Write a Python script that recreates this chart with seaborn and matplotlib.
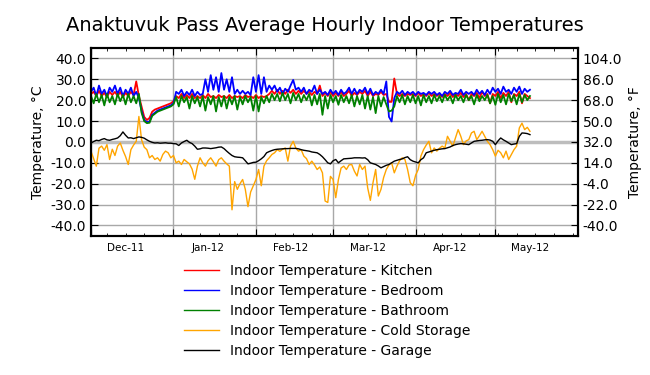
import numpy as np
import pandas as pd
import matplotlib
matplotlib.use('Agg')
import matplotlib.pyplot as plt
import matplotlib.dates as mdates
import seaborn as sns

# daily readings, starting 1 Dec 2011 (deg C)
START = '2011-12-01'

kitchen = [
    23, 24, 22, 24.5, 22, 23.5, 21.5, 24, 22.5, 24,
    22, 24, 21.5, 23.5, 22, 24, 22.5, 29, 22, 17,
    12, 10.5, 11.5, 14.5, 15.5, 16, 16.5, 17, 17.5, 18,
    18.5, 19.5, 22, 21, 23, 21, 22.5, 21, 23, 21,
    22, 21, 22.5, 21, 23, 21.5, 22, 21, 22.5, 21.5,
    22, 21, 22.5, 21, 22, 21.5, 22, 21, 22.5, 21.5,
    22, 21, 22.5, 21, 22, 21.5, 22, 23, 24.5, 23,
    25, 23, 24.5, 23, 25, 23.5, 25, 23, 24.5, 23,
    24.5, 23, 24, 22.5, 24, 23, 27, 22, 23.5, 22,
    24, 22, 23.5, 22, 24, 22, 23, 24.5, 22, 23.5,
    22.5, 24, 23, 24.5, 22, 24, 22, 23, 22.5, 24,
    22.5, 23, 19.2, 19.2, 30.4, 23, 22, 23, 22, 23,
    22.5, 23, 22, 23.5, 22, 23, 22, 23.5, 22, 23,
    22, 23, 21.5, 23, 22, 23.5, 21.5, 23, 22, 23.5,
    21.5, 23, 20, 23, 22, 23.5, 21, 24, 22, 23,
    18.5, 23, 22, 24, 21, 23.5, 22, 24, 19, 23,
    22, 24, 18.5, 23, 22, 21,
]

bedroom = [
    24, 26, 22, 27, 23, 25, 22, 26, 24, 27,
    23, 26, 22, 25, 23, 26, 22, 24, 21, 15,
    10.5, 9.5, 9.8, 13, 14, 15, 15.5, 16, 16.5, 17,
    17.5, 18.5, 24, 23, 25, 22, 24, 22.5, 25, 22,
    24, 22.5, 23, 30, 24, 32, 25, 31, 24, 33,
    25, 30, 24, 31, 23, 25, 23, 24.5, 23, 24,
    22.5, 31, 24, 32, 23, 31, 24, 27, 25, 27,
    24, 26, 23, 25.5, 24, 27, 29.7, 25, 26, 24,
    26, 23, 25, 24, 27, 23, 25, 23, 24, 22.5,
    25, 23, 24.5, 22.5, 25, 23, 24, 26, 23, 25.5,
    23, 25, 24, 26, 23, 25.5, 22.5, 24, 23, 25,
    23, 29, 12, 9.8, 21, 24, 23, 24.5, 22.5, 24,
    23, 24, 22.5, 24, 23, 23.5, 22.5, 24, 23, 24,
    22.5, 23.5, 22, 24, 23, 24.5, 22.5, 23.5, 23, 25,
    22.5, 24, 23, 24, 22.5, 25, 23, 24.5, 22.5, 25,
    23, 26, 24, 25.5, 23, 26.5, 24, 25, 23, 26,
    24, 26.5, 23, 25.5, 24, 25,
]

bathroom = [
    22, 18.5, 23, 19, 22.5, 17.5, 23, 19, 22, 18,
    23, 19.5, 22.5, 18, 23, 19, 22, 18.5, 23, 14,
    10, 9, 9.2, 12.5, 13.5, 14.5, 15, 15.5, 16, 16.5,
    17, 18, 21.5, 17, 22, 19, 21.5, 16, 22, 18.5,
    21.5, 17, 22, 15, 21.5, 18, 22, 14.6, 21.5, 17,
    22, 16, 21.5, 18, 22, 15.5, 21.5, 18, 22, 19,
    21.5, 15, 22, 14.6, 21.5, 18.5, 22, 19, 23, 20,
    23, 19.5, 23.5, 20, 23, 18.5, 23.5, 20, 23, 19,
    22.5, 20, 23, 17.5, 22.5, 18, 23, 13, 22, 16,
    22.5, 19, 22, 17.8, 22.5, 19, 22, 18.5, 22.5, 17,
    22, 18, 22.5, 16, 22, 15.5, 21.5, 13.8, 22, 17,
    21.5, 18, 14.6, 15, 17, 22, 19, 22.5, 18, 22,
    19, 22.5, 18.5, 22, 17.5, 22.5, 19, 22, 18.5, 22.5,
    19.5, 22, 19, 22.5, 20, 22, 18.5, 22.5, 20, 22,
    19, 22.5, 20, 22, 18, 22.5, 19.5, 22, 20, 22.5,
    18.5, 22, 17.8, 23, 19, 22.5, 18, 23, 19.5, 22.5,
    18, 23, 19, 22.5, 20, 22,
]

cold_storage = [
    -4.5, -8, -11.6, -3, -2, -4, -1.3, -8.4, -3.5, -6.5,
    -2, -0.5, -4, -7, -10.8, -3.7, -1.5, 0.3, 12.2, 1.1,
    -2.5, -3.7, -7.6, -6.5, -8.4, -7.6, -9.2, -6, -4.4, -5.2,
    -7.6, -6.5, -10, -9.2, -10.8, -8.4, -9.5, -10.5, -13, -17.9,
    -11.6, -7.6, -10, -11.6, -9, -7.6, -9.5, -11.6, -8.5, -7.6,
    -9.2, -10.5, -11.6, -32.5, -19, -22.7, -20, -18, -22.7, -31,
    -24, -21, -18, -13.2, -21, -11.6, -9, -7.6, -6, -5.2,
    -3.7, -4.5, -3.5, -2.9, -9.2, -2, 0.3, -3, -4.4, -3.7,
    -6.8, -8, -10.8, -9.2, -11, -13.2, -12, -14.8, -28.3, -29,
    -16.5, -18, -26.7, -18, -12.5, -11.6, -13.2, -11, -10.8, -14,
    -16.3, -10.8, -13.2, -11.6, -22, -28, -19.5, -13.2, -25.9, -22.7,
    -17, -13.2, -11, -10, -14.8, -11.6, -9, -7.6, -8.4, -13.2,
    -19.5, -21, -16, -13.2, -6.8, -3.7, -1.5, 0.3, -5.2, -2.9,
    -4.4, -3, -2, -2.9, 2.7, 0.3, -2, 1.9, 5.9, 2.7,
    -1.3, 0.5, 1.1, 4.3, 5.1, 1.1, 3, 5.1, 2.7, 0.3,
    -1.3, -3.7, -6.8, -4, -5.2, -7.6, -4.4, -8.4, -6, -3.7,
    -2, 6.7, 9, 5.9, 7, 5.1,
]

garage = [
    -0.5, 0.2, 0.8, 0.6, 1.2, 1.6, 1.0, 0.8, 1.2, 1.5,
    1.9, 3.0, 4.8, 3.2, 1.9, 2.0, 1.6, 2.0, 2.4, 2.2,
    1.8, 1.0, 0.3, -0.2, -0.5, -0.4, -0.6, -0.5, -0.4, -0.6,
    -0.6, -0.8, -0.9, -1.7, -0.5, 0.2, 0.8, -0.2, -0.8, -2.0,
    -3.5, -3.3, -2.9, -2.9, -3.0, -3.2, -3.0, -2.8, -2.5, -2.4,
    -3.2, -4.4, -5.5, -6.5, -7.1, -7.3, -7.4, -7.6, -9.0, -10.5,
    -10.2, -9.8, -9.7, -9.0, -8.1, -7.0, -5.2, -4.6, -4.1, -3.7,
    -3.5, -3.4, -3.3, -3.2, -3.2, -3.1, -3.1, -3.1, -3.3, -3.7,
    -4.0, -4.2, -4.4, -4.8, -5.0, -5.2, -6.0, -7.1, -8.5, -10.0,
    -10.5, -9.0, -8.4, -10.0, -9.0, -8.1, -8.0, -7.9, -7.8, -7.6,
    -7.6, -7.6, -7.7, -7.6, -8.5, -10.0, -10.4, -10.8, -11.5, -12.4,
    -11.8, -11.2, -10.8, -10.0, -9.2, -8.8, -8.4, -8.1, -7.5, -7.1,
    -8.5, -9.2, -9.6, -10.0, -8.5, -7.6, -5.2, -4.8, -4.4, -4.0,
    -3.7, -3.5, -3.3, -3.2, -2.8, -2.4, -1.7, -1.3, -1.0, -0.8,
    -0.9, -1.1, -1.3, -0.5, 0.3, 0.5, 0.7, 0.8, 1.0, 1.1,
    0.9, 0.3, -1.3, 0.5, 1.9, 1.0, 0.3, -0.5, -1.3, -1.0,
    -0.8, 2.7, 4.3, 4.2, 4.0, 3.5,
]

labels = ['Indoor Temperature - Kitchen', 'Indoor Temperature - Bedroom',
          'Indoor Temperature - Bathroom', 'Indoor Temperature - Cold Storage',
          'Indoor Temperature - Garage']
colors = ['red', 'blue', 'green', 'orange', 'black']
widths = [1.3, 1.3, 1.3, 1.0, 1.0]
yticks_c = [-40, -30, -20, -10, 0, 10, 20, 30, 40]


def c2f(c):
    return np.asarray(c) * 9.0 / 5.0 + 32.0


def main():
    series = [kitchen, bedroom, bathroom, cold_storage, garage]
    dates = pd.date_range(START, periods=len(garage), freq='D')

    plt.rcParams['xtick.direction'] = 'in'
    plt.rcParams['ytick.direction'] = 'in'
    plt.rcParams['font.family'] = ['DejaVu Sans']

    fig = plt.figure(figsize=(6.5, 3.75), dpi=100)
    ax = fig.add_axes([0.14, 0.371, 0.749, 0.501])
    for lab, vals, col, lw in zip(labels, series, colors, widths):
        assert len(vals) == len(dates), (lab, len(vals))
        d = pd.DataFrame({'date': dates, 'temp': vals})
        sns.lineplot(data=d, x='date', y='temp', color=col, linewidth=lw,
                     ax=ax, zorder=3)
    handles = ax.get_lines()[:5]
    ax.axhline(0, color='#bdbdbd', lw=2.5, zorder=2)

    ax.set_xlim(pd.Timestamp('2011-12-01'), pd.Timestamp('2012-06-01'))
    ax.set_ylim(-45, 45)
    ax.set_yticks(yticks_c)
    ax.set_yticklabels(['%.1f' % v for v in yticks_c], fontsize=10)
    ax.set_ylabel('Temperature, °C', fontsize=10)
    ax.set_xlabel('')

    ax.xaxis.set_major_locator(mdates.MonthLocator())
    ax.xaxis.set_major_formatter(plt.NullFormatter())
    ax.xaxis.set_minor_locator(mdates.WeekdayLocator(byweekday=mdates.WE))
    ax.tick_params(axis='x', which='major', length=5, top=True)
    ax.tick_params(axis='x', which='minor', length=2.5, top=True)
    ax.tick_params(axis='y', length=5)
    ax.grid(True, which='major', color='#a8a8a8', lw=1)
    ax.set_axisbelow(True)
    for s in ax.spines.values():
        s.set_linewidth(1.5)

    sec = ax.secondary_xaxis('bottom')
    sec.xaxis.set_major_locator(mdates.MonthLocator(bymonthday=14))
    sec.xaxis.set_major_formatter(mdates.DateFormatter('%b-%y'))
    sec.tick_params(length=0, labelsize=7.5, pad=5)
    sec.spines['bottom'].set_visible(False)

    ax2 = ax.twinx()
    ax2.set_ylim(c2f(-45), c2f(45))
    ftick = c2f(yticks_c)
    ax2.set_yticks(ftick)
    ax2.set_yticklabels(['%.1f' % v for v in ftick], fontsize=10)
    ax2.set_ylabel('Temperature, °F', fontsize=10)
    ax2.tick_params(axis='y', length=5)
    for s in ax2.spines.values():
        s.set_linewidth(1.5)

    fig.suptitle('Anaktuvuk Pass Average Hourly Indoor Temperatures',
                 fontsize=14, y=0.957)
    leg = fig.legend(handles, labels, loc='upper left',
                     bbox_to_anchor=(0.275, 0.312), frameon=False, fontsize=10,
                     handlelength=2.5, labelspacing=0.44, borderaxespad=0)
    for h in leg.legend_handles:
        h.set_linewidth(1.0)

    fig.savefig('out.png', dpi=100)


if __name__ == '__main__':
    main()
